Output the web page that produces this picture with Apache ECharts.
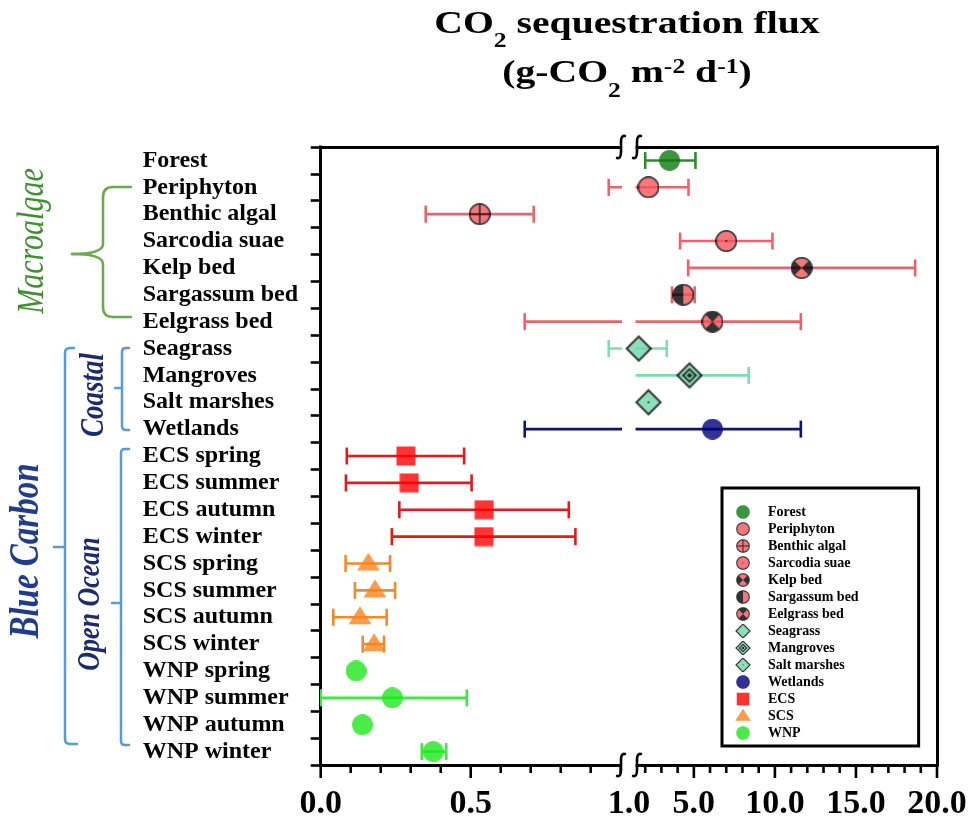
<!DOCTYPE html>
<html>
<head>
<meta charset="utf-8">
<title>CO2 sequestration flux</title>
<script src="https://cdn.jsdelivr.net/npm/echarts@6.0.0/dist/echarts.min.js"></script>
<style>
  html, body { margin: 0; padding: 0; background: #ffffff; }
  #chart { width: 974px; height: 837px; }
</style>
</head>
<body>
<div id="chart"></div>
<script>
// Ecosystem categories, listed top to bottom
const categories = [
  'Forest', 'Periphyton', 'Benthic algal', 'Sarcodia suae', 'Kelp bed', 'Sargassum bed', 'Eelgrass bed',
  'Seagrass', 'Mangroves', 'Salt marshes', 'Wetlands',
  'ECS spring', 'ECS summer', 'ECS autumn', 'ECS winter',
  'SCS spring', 'SCS summer', 'SCS autumn', 'SCS winter',
  'WNP spring', 'WNP summer', 'WNP autumn', 'WNP winter'
];

// Mean CO2 sequestration flux, g-CO2 m-2 d-1
const fluxMean = [
  3.5, 2.2, 0.53, 7.0, 11.65, 4.35, 6.15,
  1.6, 4.73, 2.2, 6.15,
  0.284, 0.295, 0.545, 0.544,
  0.159, 0.181, 0.131, 0.178,
  0.118, 0.239, 0.139, 0.375
];

// Error bar ends (null = no error bar)
const fluxLow = [
  2.0, 0.96, 0.35, 4.15, 4.65, 3.65, 0.68,
  0.96, 1.08, null, 0.68,
  0.087, 0.084, 0.262, 0.237,
  0.083, 0.114, 0.042, 0.14,
  null, 0.0, null, 0.337
];
const fluxHigh = [
  5.1, 4.67, 0.71, 9.85, 18.65, 5.05, 11.6,
  3.33, 8.38, null, 11.6,
  0.478, 0.503, 0.827, 0.849,
  0.231, 0.248, 0.22, 0.211,
  null, 0.487, null, 0.418
];

// Legend entries (one series each)
const legendNames = [
  'Forest', 'Periphyton', 'Benthic algal', 'Sarcodia suae', 'Kelp bed', 'Sargassum bed', 'Eelgrass bed',
  'Seagrass', 'Mangroves', 'Salt marshes', 'Wetlands', 'ECS', 'SCS', 'WNP'
];

// Ticks and tick labels for the two segments of the broken x axis
const leftTickLabels = [0, 0.5];
const leftMajorTicks = [0, 0.5];
const leftMinorTicks = [0.1, 0.2, 0.3, 0.4, 0.6, 0.7, 0.8, 0.9, 1.0];
const rightTickLabels = [1, 5, 10, 15, 20];
const rightMajorTicks = [5, 10, 15, 20];
const rightMinorTicks = [2, 3, 4, 6, 7, 8, 9, 11, 12, 13, 14, 16, 17, 18, 19];

// ---------------------------------------------------------------------------
const SERIF = '"Liberation Serif", "Times New Roman", serif';
const INK = '#000000';
const CORAL = '#f2555c';
const MINT = '#70d8a9';

const seriesLook = {
  'Forest':        { glyph: 'dot',         fill: '#0d7a10', bar: '#2d8b2d' },
  'Periphyton':    { glyph: 'ring',        fill: CORAL,     bar: '#ea636b' },
  'Benthic algal': { glyph: 'plus',        fill: CORAL,     bar: '#ea636b' },
  'Sarcodia suae': { glyph: 'pip',         fill: CORAL,     bar: '#ea636b' },
  'Kelp bed':      { glyph: 'bowtie',      fill: CORAL,     bar: '#ea636b' },
  'Sargassum bed': { glyph: 'half',        fill: CORAL,     bar: '#ea636b' },
  'Eelgrass bed':  { glyph: 'hourglass',   fill: CORAL,     bar: '#ea636b' },
  'Seagrass':      { glyph: 'diamond',     fill: MINT,      bar: '#7edcb2' },
  'Mangroves':     { glyph: 'diamondCore', fill: MINT,      bar: '#7edcb2' },
  'Salt marshes':  { glyph: 'diamondPip',  fill: MINT,      bar: '#7edcb2' },
  'Wetlands':      { glyph: 'dot',         fill: '#00007c', bar: '#0b1572' },
  'ECS':           { glyph: 'square',      fill: '#ff0000', bar: '#e31a1a' },
  'SCS':           { glyph: 'triangle',    fill: '#f5841f', bar: '#f08a2a' },
  'WNP':           { glyph: 'dot',         fill: '#1fe61f', bar: '#3bea3b' }
};

// which legend entry each category belongs to
const groupOf = categories.map(c => {
  const head = c.split(' ')[0];
  return ['ECS', 'SCS', 'WNP'].indexOf(head) >= 0 ? head : c;
});

// ---- marker glyphs painted on a canvas and used as image symbols ----
function paintGlyph(ctx, glyph, fill, cx, cy, r) {
  const lw = Math.max(1.1, r * 0.15);
  const ro = r - lw / 2;
  const Q = Math.PI / 4;
  ctx.lineWidth = lw;
  ctx.strokeStyle = INK;
  ctx.fillStyle = fill;
  const circle = rr => { ctx.beginPath(); ctx.arc(cx, cy, rr, 0, Math.PI * 2); };
  const diamond = rr => {
    ctx.beginPath();
    ctx.moveTo(cx, cy - rr); ctx.lineTo(cx + rr, cy); ctx.lineTo(cx, cy + rr); ctx.lineTo(cx - rr, cy);
    ctx.closePath();
  };
  const wedge = (a0, a1) => {
    ctx.beginPath(); ctx.moveTo(cx, cy); ctx.arc(cx, cy, ro, a0, a1); ctx.closePath();
    ctx.fillStyle = INK; ctx.fill();
  };
  switch (glyph) {
    case 'dot':
      circle(r); ctx.fill(); break;
    case 'ring':
      circle(ro); ctx.fill(); ctx.stroke(); break;
    case 'plus':
      circle(ro); ctx.fill(); ctx.stroke();
      ctx.beginPath();
      ctx.moveTo(cx - ro, cy); ctx.lineTo(cx + ro, cy);
      ctx.moveTo(cx, cy - ro); ctx.lineTo(cx, cy + ro);
      ctx.stroke(); break;
    case 'pip':
      circle(ro); ctx.fill(); ctx.stroke();
      circle(lw * 0.55); ctx.fillStyle = INK; ctx.fill(); break;
    case 'bowtie':
      circle(ro); ctx.fill();
      wedge(3 * Q, 5 * Q); wedge(-Q, Q);
      circle(ro); ctx.stroke(); break;
    case 'hourglass':
      circle(ro); ctx.fill();
      wedge(5 * Q, 7 * Q); wedge(Q, 3 * Q);
      circle(ro); ctx.stroke(); break;
    case 'half':
      circle(ro); ctx.fill();
      wedge(2 * Q, 6 * Q);
      circle(ro); ctx.stroke(); break;
    case 'diamond': {
      const d = r - lw * 0.7;
      diamond(d); ctx.fill(); ctx.stroke(); break;
    }
    case 'diamondCore': {
      const d = r - lw * 0.7;
      diamond(d); ctx.fill(); ctx.stroke();
      diamond(d * 0.52); ctx.stroke();
      diamond(d * 0.24); ctx.fillStyle = INK; ctx.fill(); break;
    }
    case 'diamondPip': {
      const d = r - lw * 0.7;
      diamond(d); ctx.fill(); ctx.stroke();
      circle(lw * 0.5); ctx.fillStyle = INK; ctx.fill(); break;
    }
    case 'square':
      ctx.fillRect(cx - r, cy - r, 2 * r, 2 * r); break;
    case 'triangle':
      ctx.beginPath();
      ctx.moveTo(cx, cy - r * 0.95); ctx.lineTo(cx + r, cy + r * 0.62); ctx.lineTo(cx - r, cy + r * 0.62);
      ctx.closePath(); ctx.fill(); break;
  }
}

function glyphImage(glyph, fill, w, h, cx, cy, r) {
  const K = 4;
  const c = document.createElement('canvas');
  c.width = w * K; c.height = h * K;
  const ctx = c.getContext('2d');
  ctx.scale(K, K);
  paintGlyph(ctx, glyph, fill, cx, cy, r);
  return 'image://' + c.toDataURL('image/png');
}

const plotBox = { dot: 21, ring: 22, plus: 22, pip: 22, bowtie: 22, hourglass: 22, half: 22,
                  diamond: 28, diamondCore: 28, diamondPip: 28, square: 20, triangle: 24 };
const plotRadius = { dot: 10.5, ring: 11, plus: 11, pip: 11, bowtie: 11, hourglass: 11, half: 11,
                     diamond: 13.5, diamondCore: 13.5, diamondPip: 13.5, square: 9.5, triangle: 11.5 };
const keyRadius = { dot: 6.8, ring: 6.8, plus: 6.8, pip: 6.8, bowtie: 6.8, hourglass: 6.8, half: 6.8,
                    diamond: 7.8, diamondCore: 7.8, diamondPip: 7.8, square: 6.3, triangle: 7.8 };

// ---- error bars ----
const barColors = legendNames.map(n => seriesLook[n].bar);
const errorRows = [];
categories.forEach((c, i) => {
  if (fluxLow[i] != null && fluxHigh[i] != null) {
    errorRows.push([i, fluxLow[i], fluxHigh[i], legendNames.indexOf(groupOf[i])]);
  }
});

function renderErrorBar(params, api) {
  const row = api.value(0);
  const a = api.coord([api.value(1), row]);
  const b = api.coord([api.value(2), row]);
  const color = barColors[api.value(3)];
  const cap = 8.5;
  const st = () => ({ stroke: color, lineWidth: 2.6, fill: null });
  return {
    type: 'group',
    children: [
      { type: 'line', shape: { x1: a[0], y1: a[1], x2: b[0], y2: b[1] }, style: st() },
      { type: 'line', shape: { x1: a[0], y1: a[1] - cap, x2: a[0], y2: a[1] + cap }, style: st() },
      { type: 'line', shape: { x1: b[0], y1: b[1] - cap, x2: b[0], y2: b[1] + cap }, style: st() }
    ]
  };
}

// x-axis tick marks, drawn in thin strips under each plot segment: data = [tick value, tick length]
function renderTick(params, api) {
  const a = api.coord([api.value(0), 0]);
  const b = api.coord([api.value(0), api.value(1)]);
  return {
    type: 'line',
    shape: { x1: a[0], y1: a[1], x2: b[0], y2: b[1] },
    style: { stroke: INK, lineWidth: 2.6, fill: null }
  };
}

const series = [];
[0, 1].forEach(gi => {
  series.push({
    type: 'custom',
    xAxisIndex: gi,
    yAxisIndex: gi,
    clip: true,
    silent: true,
    z: 2,
    encode: { x: [1, 2], y: 0 },
    renderItem: renderErrorBar,
    data: errorRows
  });
});

const tickSets = [
  leftMajorTicks.map(v => [v, 13]).concat(leftMinorTicks.map(v => [v, 8])),
  rightMajorTicks.map(v => [v, 13]).concat(rightMinorTicks.map(v => [v, 8]))
];
[0, 1].forEach(gi => {
  series.push({
    type: 'custom',
    xAxisIndex: 4 + gi,
    yAxisIndex: 2 + gi,
    clip: false,
    silent: true,
    z: 6,
    encode: { x: 0, y: 1 },
    renderItem: renderTick,
    data: tickSets[gi]
  });
});

legendNames.forEach(name => {
  const look = seriesLook[name];
  const rows = [];
  categories.forEach((c, i) => { if (groupOf[i] === name) rows.push(i); });
  const side = fluxMean[rows[0]] < 1 ? 0 : 1;
  const box = plotBox[look.glyph];
  series.push({
    type: 'scatter',
    name: name,
    xAxisIndex: side,
    yAxisIndex: side,
    clip: false,
    silent: true,
    z: 5,
    symbol: glyphImage(look.glyph, look.fill, box, box, box / 2, box / 2, plotRadius[look.glyph]),
    symbolSize: [box, box],
    data: rows.map(i => [fluxMean[i], i])
  });
});

// ---- axes ----
const thick = { color: INK, width: 3, cap: 'square' };
const tickLine = { color: INK, width: 2.6 };
const numberLabel = {
  show: true, fontFamily: SERIF, fontWeight: 'bold', fontSize: 34, color: INK, margin: 22,
  formatter: v => Number(v).toFixed(1)
};
const frameAxis = (gridIndex, min, max) => ({
  gridIndex, type: 'value', min, max, position: 'top',
  axisLine: { show: true, onZero: false, lineStyle: thick },
  axisTick: { show: false }, axisLabel: { show: false }, splitLine: { show: false }
});
const stripAxis = (gridIndex, min, max) => ({ gridIndex, type: 'value', min, max, show: false });

const xAxis = [
  {
    gridIndex: 0, type: 'value', min: 0, max: 1, interval: 0.5, position: 'bottom',
    axisLine: { show: true, onZero: false, lineStyle: thick },
    axisTick: { show: false },
    axisLabel: Object.assign({ customValues: leftTickLabels }, numberLabel),
    splitLine: { show: false }
  },
  {
    gridIndex: 1, type: 'value', min: 1, max: 20, position: 'bottom',
    axisLine: { show: true, onZero: false, lineStyle: thick },
    axisTick: { show: false },
    axisLabel: Object.assign({ customValues: rightTickLabels }, numberLabel),
    splitLine: { show: false }
  },
  frameAxis(0, 0, 1),
  frameAxis(1, 1, 20),
  stripAxis(2, 0, 1),
  stripAxis(3, 1, 20)
];

const yAxis = [
  {
    gridIndex: 0, type: 'category', data: categories, inverse: true, position: 'left',
    axisLine: { show: true, onZero: false, lineStyle: thick },
    axisTick: { show: true, interval: 0, length: 10, lineStyle: tickLine },
    axisLabel: {
      show: true, interval: 0, align: 'left', margin: 178,
      fontFamily: SERIF, fontWeight: 'bold', fontSize: 24, color: INK
    },
    splitLine: { show: false }
  },
  {
    gridIndex: 1, type: 'category', data: categories, inverse: true, position: 'right',
    axisLine: { show: true, onZero: false, lineStyle: thick },
    axisTick: { show: false }, axisLabel: { show: false }, splitLine: { show: false }
  },
  // tick strips: one unit per pixel, measured downward from the axis line
  Object.assign(stripAxis(2, 0, 13), { inverse: true }),
  Object.assign(stripAxis(3, 0, 13), { inverse: true })
];

// ---- decorations: title, group brackets, axis break ----
const measureCtx = document.createElement('canvas').getContext('2d');
function textWidth(str, size) {
  measureCtx.font = 'bold ' + size + 'px ' + SERIF;
  return measureCtx.measureText(str).width;
}

// one title line made of pieces: [text, size, baseline shift]; laid out left to right, centred at cx
function titleLine(pieces, cx, baseline, stretch) {
  const widths = pieces.map(p => textWidth(p[0], p[1]));
  const total = widths.reduce((s, w) => s + w, 0);
  let x = -total / 2;
  const children = pieces.map((p, k) => {
    const el = {
      type: 'text', x: x, y: p[2] - 0.3375 * p[1], silent: true, z: 10,
      style: {
        text: p[0], fill: INK, fontFamily: SERIF, fontWeight: 'bold', fontSize: p[1],
        align: 'left', verticalAlign: 'middle'
      }
    };
    x += widths[k];
    return el;
  });
  return { type: 'group', x: cx, y: baseline, scaleX: stretch, children: children };
}

function sideText(text, x, y, size, weight, color) {
  return {
    type: 'text', x: x, y: y, rotation: Math.PI / 2, scaleY: 1.25, z: 10, silent: true,
    style: {
      text: text, fill: color, fontFamily: SERIF, fontSize: size, fontStyle: 'italic', fontWeight: weight,
      align: 'center', verticalAlign: 'middle'
    }
  };
}

// strokes built from a small path spec of M / L / Q commands
function strokeGroup(spec, color, z) {
  const t = spec.trim().split(/[\s,]+/);
  const kids = [];
  let i = 0, cx = 0, cy = 0;
  const style = () => ({ stroke: color, lineWidth: 2.5, fill: null, lineCap: 'round' });
  while (i < t.length) {
    const cmd = t[i++];
    if (cmd === 'M') {
      cx = +t[i++]; cy = +t[i++];
    } else if (cmd === 'L') {
      const x = +t[i++], y = +t[i++];
      kids.push({ type: 'line', z: z, silent: true, shape: { x1: cx, y1: cy, x2: x, y2: y }, style: style() });
      cx = x; cy = y;
    } else if (cmd === 'Q') {
      const qx = +t[i++], qy = +t[i++], x = +t[i++], y = +t[i++];
      kids.push({ type: 'bezierCurve', z: z, silent: true,
        shape: { x1: cx, y1: cy, x2: x, y2: y, cpx1: qx, cpy1: qy }, style: style() });
      cx = x; cy = y;
    }
  }
  return { type: 'group', children: kids };
}

function breakMark(x, y) {
  return strokeGroup(
    `M ${x + 4} ${y - 11} Q ${x} ${y - 12} ${x} ${y - 5} L ${x} ${y + 5} Q ${x} ${y + 12} ${x - 4} ${y + 11}`,
    INK, 7
  );
}

const GREEN_BRACE = '#6aab4d';
const BLUE_BRACE = '#5b9bd5';

const graphic = [
  // gap between the two x segments
  { type: 'rect', z: 3, silent: true, shape: { x: 622.5, y: 135, width: 13, height: 640 }, style: { fill: '#ffffff' } },
  breakMark(621, 147), breakMark(637, 147), breakMark(621, 765), breakMark(637, 765),

  titleLine([['CO', 31, 0], ['2', 20, 14], [' sequestration flux', 31, 0]], 627, 35, 1.28),
  titleLine([['(g-CO', 31, 0], ['2', 20, 14], [' m', 31, 0], ['-2', 20, -10], [' d', 31, 0], ['-1', 20, -10], [')', 31, 0]], 627, 84.5, 1.28),

  sideText('Macroalgae', 33, 241, 30, 'normal', '#3f8f30'),
  sideText('Blue Carbon', 27, 551, 33, 'bold', '#1f3d8a'),
  sideText('Coastal', 94, 395, 27, 'bold', '#1c2a6e'),
  sideText('Open Ocean', 91, 604, 26, 'bold', '#1c2a6e'),

  strokeGroup('M 131 187 L 113 187 Q 103 187 103 197 L 103 244 Q 103 254 72 254 M 72 254 Q 103 254 103 264 L 103 307 Q 103 317 113 317 L 131 317', GREEN_BRACE, 10),
  strokeGroup('M 74 348 L 70 348 Q 65 348 65 353 L 65 739 Q 65 744 70 744 L 77 744 M 65 547 L 54 547', BLUE_BRACE, 10),
  strokeGroup('M 129 348 L 126 348 Q 122 348 122 352 L 122 426 Q 122 430 126 430 L 129 430 M 122 388 L 115 388', BLUE_BRACE, 10),
  strokeGroup('M 129 449 L 125 449 Q 121 449 121 453 L 121 741 Q 121 745 125 745 L 129 745 M 121 603 L 112 603', BLUE_BRACE, 10)
];

const option = {
  animation: false,
  backgroundColor: '#ffffff',
  grid: [
    { left: 320.7, top: 147, width: 300, height: 618 },
    { left: 629, top: 147, width: 308, height: 618 },
    { left: 320.7, top: 765, width: 300, height: 13 },
    { left: 629, top: 765, width: 308, height: 13 }
  ],
  xAxis: xAxis,
  yAxis: yAxis,
  legend: {
    orient: 'vertical',
    left: 722, top: 488,
    padding: [17, 60, 6, 8],
    itemWidth: 33, itemHeight: 14, itemGap: 3,
    borderColor: INK, borderWidth: 3, backgroundColor: '#ffffff',
    selectedMode: false,
    z: 8,
    textStyle: { fontFamily: SERIF, fontWeight: 'bold', fontSize: 14, color: INK },
    data: legendNames.map(n => {
      const look = seriesLook[n];
      return { name: n, icon: glyphImage(look.glyph, look.fill, 33, 14, 13, 7, keyRadius[look.glyph]) };
    })
  },
  graphic: graphic,
  series: series
};

const chart = echarts.init(document.getElementById('chart'), null, { renderer: 'canvas' });
chart.setOption(option);
</script>
</body>
</html>
